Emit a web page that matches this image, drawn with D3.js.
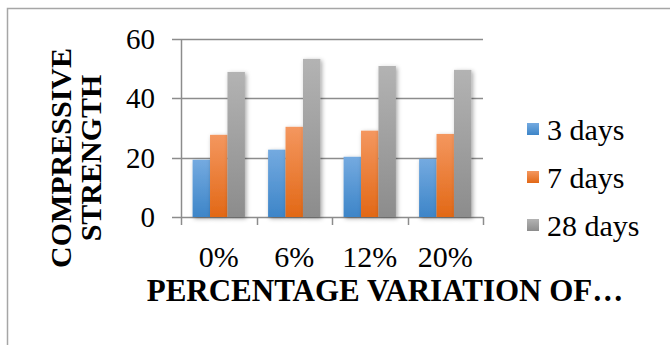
<!DOCTYPE html>
<html><head><meta charset="utf-8">
<script src="https://cdn.jsdelivr.net/npm/d3@7"></script>
<style>
html,body{margin:0;padding:0;background:#fff;}
svg{display:block;font-family:"Liberation Serif","Times New Roman",serif;}
</style></head>
<body><svg id="chart" width="670" height="345"></svg>
<script>
const categories = ["0%", "6%", "12%", "20%"];
const seriesNames = ["3 days", "7 days", "28 days"];
const days3 = [19.3, 22.7, 20.3, 19.6];
const days7 = [27.7, 30.4, 29.1, 28.0];
const days28 = [48.9, 53.3, 50.9, 49.6];
const yTicks = [0, 20, 40, 60];
const xTitle = "PERCENTAGE VARIATION OF…";
const yTitleLines = ["COMPRESSIVE", "STRENGTH"];

(function(){
const seriesValues = [days3, days7, days28];
const colors = [
  {top:"#74aae0", bottom:"#3d85c8"},
  {top:"#f4975f", bottom:"#e26816"},
  {top:"#b3b3b3", bottom:"#8c8c8c"}
];

const svg = d3.select("#chart");
const defs = svg.append("defs");
colors.forEach((c,i)=>{
  const g = defs.append("linearGradient").attr("id","g"+i).attr("x1",0).attr("y1",0).attr("x2",0).attr("y2",1);
  g.append("stop").attr("offset","0%").attr("stop-color",c.top);
  g.append("stop").attr("offset","100%").attr("stop-color",c.bottom);
});
const f = defs.append("filter").attr("id","sh").attr("x","-50%").attr("y","-20%").attr("width","200%").attr("height","140%");
f.append("feDropShadow").attr("dx",1.5).attr("dy",1.5).attr("stdDeviation",2).attr("flood-color","#000").attr("flood-opacity",0.35);

// outer frame
svg.append("rect").attr("x",7.5).attr("y",8.5).attr("width",700).attr("height",400)
  .attr("fill","none").attr("stroke","#a6a6a6").attr("stroke-width",1.5);

const pLeft = 181, pRight = 483, pTop = 39, pBottom = 217;
const x0 = d3.scaleBand().domain(categories).range([pLeft,pRight]).paddingInner(0).paddingOuter(0);
const x1 = d3.scaleBand().domain(d3.range(seriesNames.length)).range([0,x0.bandwidth()]).paddingInner(0).paddingOuter(0.665);
const y = d3.scaleLinear().domain([0,60]).range([pBottom,pTop]);

// gridlines
svg.append("g").selectAll("line").data(yTicks).join("line")
  .attr("x1",172).attr("x2",pRight).attr("y1",d=>Math.round(y(d))+0.5).attr("y2",d=>Math.round(y(d))+0.5)
  .attr("stroke","#8c8c8c").attr("stroke-width",1.5);

// y axis line
svg.append("line").attr("x1",pLeft+0.5).attr("x2",pLeft+0.5).attr("y1",pTop).attr("y2",pBottom)
  .attr("stroke","#8c8c8c").attr("stroke-width",1.5);

// x category ticks
const boundaries = categories.map(c=>x0(c)).concat([pRight]);
svg.append("g").selectAll("line").data(boundaries).join("line")
  .attr("x1",d=>Math.round(d)+0.5).attr("x2",d=>Math.round(d)+0.5).attr("y1",pBottom).attr("y2",pBottom+8)
  .attr("stroke","#8c8c8c").attr("stroke-width",1.5);

// bars
const groups = svg.append("g").selectAll("g").data(categories).join("g")
  .attr("transform",d=>`translate(${x0(d)},0)`);
groups.selectAll("rect").data((d,ci)=>seriesValues.map((s,si)=>({si, v:s[ci]}))).join("rect")
  .attr("x",d=>x1(d.si)).attr("width",x1.bandwidth())
  .attr("y",d=>y(d.v)).attr("height",d=>y(0)-y(d.v))
  .attr("fill",d=>`url(#g${d.si})`).attr("filter","url(#sh)");

// y tick labels
svg.append("g").selectAll("text").data(yTicks).join("text")
  .attr("x",155).attr("y",d=>y(d)).attr("dy","0.35em").attr("text-anchor","end")
  .attr("font-size",29).attr("fill","#000").text(d=>d);

// x tick labels
svg.append("g").selectAll("text").data(categories).join("text")
  .attr("x",d=>x0(d)+x0.bandwidth()/2).attr("y",267).attr("text-anchor","middle")
  .attr("font-size",30).attr("fill","#000").text(d=>d);

// x title
svg.append("text").attr("x",385).attr("y",301).attr("text-anchor","middle")
  .attr("font-size",31).attr("font-weight","bold").attr("fill","#000").text(xTitle);

// y title
const yt = svg.append("text").attr("transform","translate(0,158) rotate(-90)")
  .attr("text-anchor","middle").attr("font-size",30).attr("font-weight","bold").attr("fill","#000");
yt.selectAll("tspan").data(yTitleLines).join("tspan")
  .attr("x",0).attr("y",(d,i)=>71+i*30).text(d=>d);

// legend
const lg = svg.append("g").selectAll("g").data(seriesNames).join("g")
  .attr("transform",(d,i)=>`translate(527,${123+i*48})`);
lg.append("rect").attr("width",12).attr("height",12).attr("fill",(d,i)=>`url(#g${i})`);
lg.append("text").attr("x",20).attr("y",17).attr("font-size",30).attr("fill","#000").text(d=>d);
})();
</script></body></html>
